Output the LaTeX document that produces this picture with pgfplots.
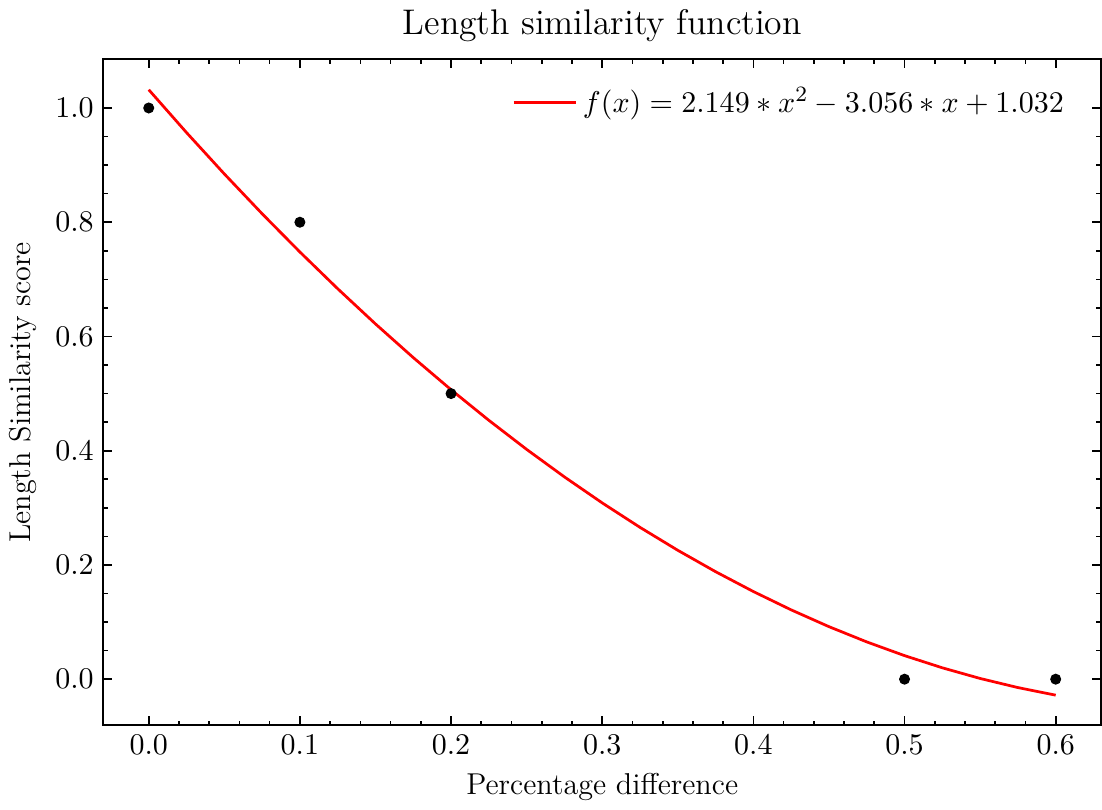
\documentclass[border=0pt]{standalone}
\usepackage{pgfplots}
\pgfplotsset{compat=1.18}
\begin{document}
\begin{tikzpicture}
\begin{axis}[
  scale only axis,
  width=364pt, height=243pt,
  xmin=-0.03, xmax=0.63,
  ymin=-0.081, ymax=1.085,
  xtick={0,0.1,0.2,0.3,0.4,0.5,0.6},
  ytick={0,0.2,0.4,0.6,0.8,1.0},
  xticklabel style={/pgf/number format/.cd,fixed,fixed zerofill,precision=1},
  yticklabel style={/pgf/number format/.cd,fixed,fixed zerofill,precision=1},
  minor x tick num=4,
  minor y tick num=3,
  tick align=inside,
  major tick length=3.3pt,
  minor tick length=1.8pt,
  xtick pos=both, ytick pos=both,
  xticklabel pos=lower, yticklabel pos=left,
  axis line style={line width=0.7pt},
  every tick/.style={black, line width=0.6pt},
  tick label style={font=\fontsize{11}{13}\selectfont},
  label style={font=\fontsize{11}{13}\selectfont},
  title style={font=\fontsize{13}{15}\selectfont, yshift=-3pt},
  title={Length similarity function},
  xlabel={Percentage difference},
  ylabel={Length Similarity score},
  legend style={at={(0.977,0.975)}, anchor=north east, draw=none, fill=none,
    font=\fontsize{11}{13}\selectfont},
  legend cell align=left,
  legend image code/.code={\draw[#1] (0cm,0cm) -- (0.8cm,0cm);},
]
\addplot[red, line width=1pt] coordinates {
(0,1.032) (0.025,0.95694) (0.05,0.88457) (0.075,0.81489) (0.1,0.74789)
(0.125,0.68358) (0.15,0.62195) (0.175,0.56301) (0.2,0.50676) (0.225,0.45319)
(0.25,0.40231) (0.275,0.35412) (0.3,0.30861) (0.325,0.26579) (0.35,0.22565)
(0.375,0.18820) (0.4,0.15344) (0.425,0.12136) (0.45,0.09197) (0.475,0.06527)
(0.5,0.04125) (0.525,0.01992) (0.55,0.00127) (0.575,-0.01469) (0.6,-0.02796)
};
\addlegendentry{$f(x) = 2.149 * x^2 - 3.056 * x + 1.032$}
\addplot[only marks, mark=*, mark size=1.8pt, black, forget plot] coordinates {
(0,1) (0.1,0.8) (0.2,0.5) (0.5,0) (0.6,0)
};
\end{axis}
\end{tikzpicture}
\end{document}
